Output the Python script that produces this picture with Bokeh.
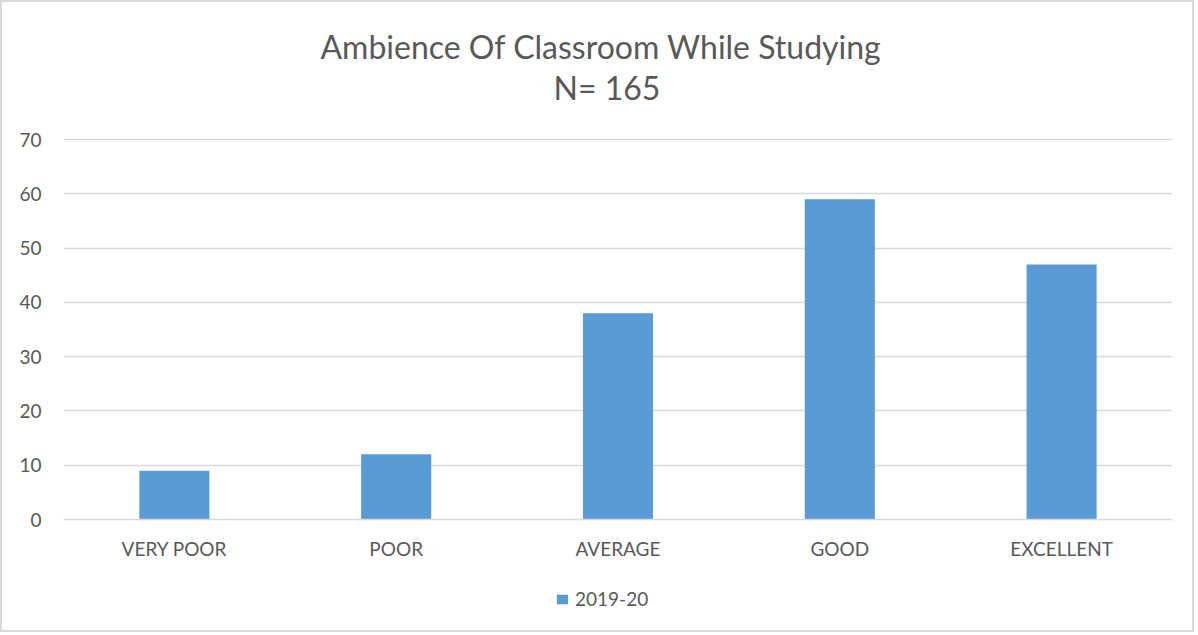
from bokeh.plotting import figure
from bokeh.layouts import column
from bokeh.models import ColumnDataSource, Title, Legend, LegendItem, FixedTicker, Range1d
from bokeh.embed import file_html
from bokeh.resources import INLINE

categories = ["VERY POOR", "POOR", "AVERAGE", "GOOD", "EXCELLENT"]
values_2019_20 = [9, 12, 38, 59, 47]
series_name = "2019-20"
y_ticks = [0, 10, 20, 30, 40, 50, 60, 70]
title_line1 = "Ambience Of Classroom While Studying"
title_line2 = "N= 165"

FONT = "Lato"
TXT = "#595959"
BAR = "#5B9BD5"
GRID = "#D9D9D9"

src = ColumnDataSource(dict(cat=categories, val=values_2019_20))

p = figure(x_range=categories, y_range=(0, 70.2), frame_width=1109, frame_height=381,
           output_backend="svg", toolbar_location=None,
           min_border_left=61, min_border_right=20, min_border_top=136, min_border_bottom=50)

r = p.vbar(x="cat", top="val", width=0.316, source=src, fill_color=BAR, line_color=None)

spacer = Title(text=" ", text_font_size="1px", standoff=29)
t2 = Title(text=title_line2, align="left", text_font=FONT, text_font_size="32px",
           text_font_style="normal", text_color=TXT, standoff=0, offset=490)
t1 = Title(text=title_line1, align="left", text_font=FONT, text_font_size="32px",
           text_font_style="normal", text_color=TXT, standoff=0, offset=257)
p.title = None
p.add_layout(spacer, "above")
p.add_layout(t2, "above")
p.add_layout(t1, "above")

p.outline_line_color = None
p.xgrid.grid_line_color = None
p.ygrid.grid_line_color = GRID
p.ygrid.grid_line_width = 1.5
p.yaxis.ticker = FixedTicker(ticks=y_ticks)

for ax in (p.xaxis[0], p.yaxis[0]):
    ax.major_label_text_font = FONT
    ax.major_label_text_font_size = "19px"
    ax.major_label_text_color = TXT
    ax.major_tick_line_color = None
    ax.minor_tick_line_color = None
p.yaxis.axis_line_color = None
p.xaxis.axis_line_color = GRID
p.xaxis.axis_line_width = 1.5
p.yaxis.major_label_standoff = 16
p.xaxis.major_label_standoff = 11

# legend strip (hidden copy of the series so only its key shows)
p2 = figure(x_range=categories, y_range=Range1d(-200, -100), width=1190, height=61,
            output_backend="svg", toolbar_location=None,
            x_axis_location=None, y_axis_location=None, min_border=0)
p2.outline_line_color = None
p2.grid.visible = False
r2 = p2.vbar(x="cat", top="val", width=0.316, source=src, fill_color=BAR, line_color=None)
r2.visible = False
legend = Legend(items=[LegendItem(label=series_name, renderers=[r2])],
                orientation="horizontal", location=(492, 20),
                label_text_font=FONT, label_text_font_size="19px", label_text_color=TXT,
                glyph_width=14, glyph_height=12, border_line_color=None,
                background_fill_alpha=0, margin=0, padding=4, label_standoff=6,
                inactive_fill_alpha=0)
p2.add_layout(legend, "center")

layout = column(p, p2, spacing=0, styles={"border": "2px solid #D9D9D9"})
open("out.html", "w").write(file_html(layout, INLINE))
